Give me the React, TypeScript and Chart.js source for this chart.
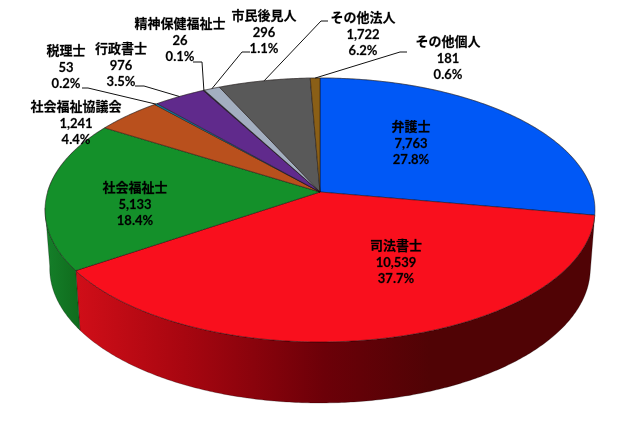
import { useEffect, useRef } from 'react';
import Chart from 'chart.js/auto';

const categories = ['弁護士', '司法書士', '社会福祉士', '社会福祉協議会', '税理士', '行政書士', '精神保健福祉士', '市民後見人', 'その他法人', 'その他個人'];
const counts = [7763, 10539, 5133, 1241, 53, 976, 26, 296, 1722, 181];
const percents = ['27.8%', '37.7%', '18.4%', '4.4%', '0.2%', '3.5%', '0.1%', '1.1%', '6.2%', '0.6%'];
const topColors = ['#0058f6', '#f90f1d', '#14902a', '#b9501d', '#0f7ea6', '#602a8c', '#1d1d3a', '#a3afc0', '#595959', '#8a5f17'];
const wallColors = ['#00307f', '#7f0008', '#12771f', '#7a3412', '#0a5570', '#3f1c5e', '#111122', '#6c7480', '#3b3b3b', '#5a3f0f'];

// label centres (x, first line y) and leader elbows, in page pixels
const labelAt: [number, number][] = [[411, 127], [396, 246], [135, 188], [76, 107], [66, 51], [121, 49], [180, 24], [264, 16], [363, 18], [448, 42]];
const leaders: ([number, number][] | null)[] = [
  null, null, null, null,
  [[82, 88], [88, 88]],
  [[135, 86], [144, 86]],
  [[193, 62], [202, 62]],
  [[250, 52], [242, 52]],
  [[328, 21], [321, 21]],
  [[407, 52], [400, 52]],
];

const FONT = 'bold 13px Lato, "Noto Sans CJK JP", sans-serif';

// perspective of the disc: unit circle -> screen
const TILT = -0.1364;
const project = (cos: number, sin: number, lower = false): [number, number] => {
  const w = 1 + TILT * sin;
  const x = (272.4 * cos) / w;
  const y = (129.5 * sin) / w;
  return lower ? [320 + x * 0.983, 250 + y * 1.02] : [320 + x, 192 + y];
};

const traceArc = (ctx: CanvasRenderingContext2D, from: number, to: number, lower: boolean, move: boolean) => {
  const steps = Math.max(2, Math.ceil(Math.abs(to - from) / 0.01));
  for (let i = 0; i <= steps; i++) {
    const a = from + ((to - from) * i) / steps;
    const [x, y] = project(Math.cos(a), Math.sin(a), lower);
    if (i === 0 && move) ctx.moveTo(x, y);
    else ctx.lineTo(x, y);
  }
};

const disc3d = {
  id: 'disc3d',
  beforeDatasetsDraw(chart: any) {
    const ctx: CanvasRenderingContext2D = chart.ctx;
    const arcs = chart.getDatasetMeta(0).data;
    ctx.save();
    ctx.lineJoin = 'round';

    // walls, only the part of the rim that faces us
    const FRONT_FROM = 0.12;
    const FRONT_TO = Math.PI - 0.12;
    arcs.forEach((arc: any, i: number) => {
      // angles in chart.js run from -PI/2; bring them into 0..2PI
      let s = arc.startAngle;
      let e = arc.endAngle;
      if (s < 0) { s += Math.PI * 2; e += Math.PI * 2; }
      const from = Math.max(s, FRONT_FROM);
      const to = Math.min(e, FRONT_TO);
      if (to <= from) return;
      ctx.beginPath();
      traceArc(ctx, from, to, false, true);
      traceArc(ctx, to, from, true, false);
      ctx.closePath();
      if (i === 1) {
        const g = ctx.createLinearGradient(77, 0, 430, 0);
        g.addColorStop(0, '#d00e18');
        g.addColorStop(0.3, '#a80610');
        g.addColorStop(0.7, '#6c0008');
        g.addColorStop(1, '#500305');
        ctx.fillStyle = g;
      } else if (i === 2) {
        const g = ctx.createLinearGradient(45, 0, 80, 0);
        g.addColorStop(0, '#15802a');
        g.addColorStop(1, '#0f6b1c');
        ctx.fillStyle = g;
      } else {
        ctx.fillStyle = wallColors[i];
      }
      ctx.fill();
      ctx.lineWidth = 0.5;
      ctx.strokeStyle = 'rgba(0,0,0,0.5)';
      ctx.stroke();
    });

    // grey halo along the back of the rim
    ctx.beginPath();
    traceArc(ctx, Math.PI, Math.PI * 2, false, true);
    ctx.lineWidth = 1.2;
    ctx.strokeStyle = 'rgba(120,120,120,0.6)';
    ctx.stroke();

    // top faces
    arcs.forEach((arc: any, i: number) => {
      ctx.beginPath();
      ctx.moveTo(...project(0, 0));
      traceArc(ctx, arc.startAngle, arc.endAngle, false, false);
      ctx.closePath();
      ctx.fillStyle = topColors[i];
      ctx.fill();
      ctx.lineWidth = 0.6;
      ctx.strokeStyle = 'rgba(20,10,10,0.8)';
      ctx.stroke();
    });

    // leader lines end on the rim at the middle of the slice
    ctx.strokeStyle = '#111';
    ctx.lineWidth = 1;
    arcs.forEach((arc: any, i: number) => {
      const elbow = leaders[i];
      if (!elbow) return;
      const mid = (arc.startAngle + arc.endAngle) / 2;
      ctx.beginPath();
      elbow.forEach(([x, y], k) => (k === 0 ? ctx.moveTo(x, y) : ctx.lineTo(x, y)));
      ctx.lineTo(...project(Math.cos(mid), Math.sin(mid)));
      ctx.stroke();
    });

    // data labels, with a hair of stroke for the heavier look of the original
    ctx.font = FONT;
    ctx.fillStyle = '#000';
    ctx.strokeStyle = 'rgba(0,0,0,0.6)';
    ctx.lineWidth = 0.3;
    ctx.textAlign = 'center';
    ctx.textBaseline = 'middle';
    categories.forEach((name, i) => {
      const [x, y] = labelAt[i];
      const lines = [name, counts[i].toLocaleString('en-US'), percents[i]];
      [0, 17, 33].forEach((dy, k) => {
        ctx.fillText(lines[k], x, y + dy);
        ctx.strokeText(lines[k], x, y + dy);
      });
    });
    ctx.restore();
    return false; // the faces above replace the flat arcs
  },
};

const App = () => {
  const chartRef = useRef<HTMLCanvasElement>(null);

  useEffect(() => {
    document.body.style.margin = '0';
    if (!chartRef.current) return;
    const chart = new Chart(chartRef.current, {
      type: 'pie',
      data: {
        labels: categories,
        datasets: [{ data: counts, backgroundColor: topColors, borderWidth: 0 }],
      },
      options: {
        responsive: false,
        animation: false,
        plugins: { legend: { display: false }, tooltip: { enabled: false } },
      },
      plugins: [disc3d],
    });
    return () => chart.destroy();
  }, []);

  return <canvas ref={chartRef} width={640} height={421} style={{ display: 'block', filter: 'blur(0.35px)' }} />;
};

export default App;
